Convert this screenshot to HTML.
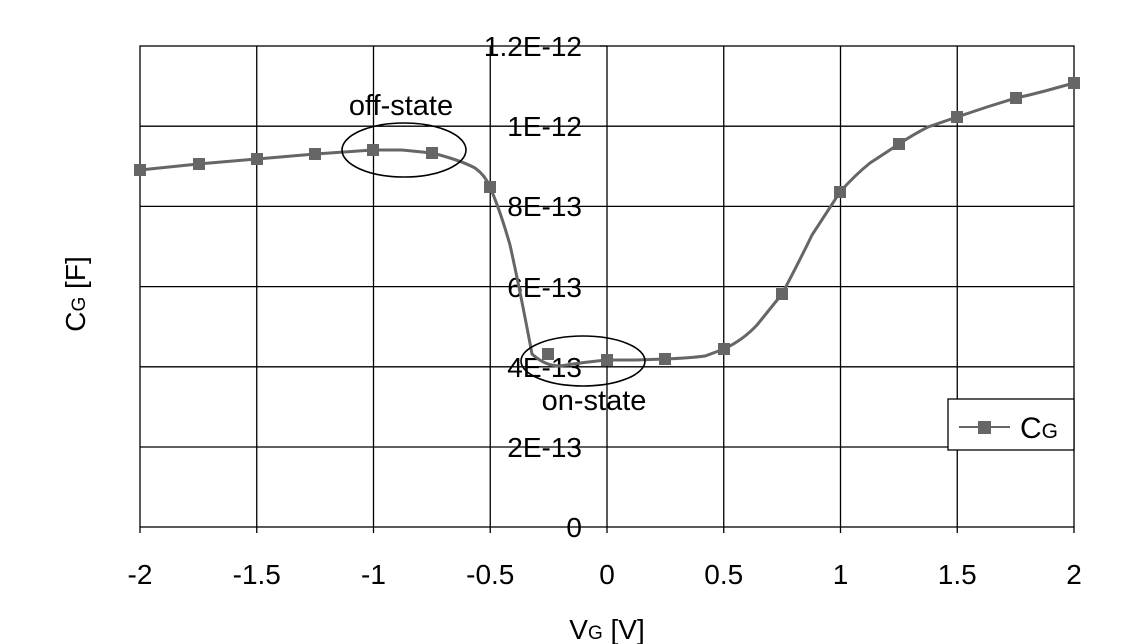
<!DOCTYPE html><html><head><style>body{margin:0;background:#fff}svg{display:block}text{font-family:"Liberation Sans",Arial,sans-serif;fill:#000}</style></head><body>
<svg width="1122" height="644" xmlns="http://www.w3.org/2000/svg">
<g stroke="#000" stroke-width="1.3" fill="none">
<rect x="140" y="46" width="934" height="481"/>
<path d="M256.75 46V533M373.5 46V533M490.25 46V533M607 46V533M723.75 46V533M840.5 46V533M957.25 46V533M140 527V533M1074 527V533"/>
<path d="M140 126.2H1074M140 206.4H1074M140 286.6H1074M140 366.8H1074M140 447H1074M600 46H607"/>
</g>
<g font-size="28" text-anchor="end">
<text x="582" y="56">1.2E-12</text><text x="582" y="136">1E-12</text><text x="582" y="216">8E-13</text><text x="582" y="297">6E-13</text><text x="582" y="377">4E-13</text><text x="582" y="457">2E-13</text><text x="582" y="537">0</text>
</g>
<g font-size="28" text-anchor="middle">
<text x="140" y="584">-2</text><text x="256.75" y="584">-1.5</text><text x="373.5" y="584">-1</text><text x="490.25" y="584">-0.5</text><text x="607" y="584">0</text><text x="723.75" y="584">0.5</text><text x="840.5" y="584">1</text><text x="957.25" y="584">1.5</text><text x="1074" y="584">2</text>
<text x="607" y="639">V<tspan font-size="19">G</tspan> [V]</text>
<text x="401" y="115" font-size="29">off-state</text>
<text x="594" y="410" font-size="29">on-state</text>
</g>
<text font-size="28" text-anchor="middle" transform="translate(85,294) rotate(-90)">C<tspan font-size="19">G</tspan> [F]</text>
<path d="M140 170 L198 164 L257 159 L315 154 L373 150 L402 150 L432 153 Q460 160 475 168 Q485 175 490 187 Q500 210 510 245 Q520 290 532 354 Q545 366 560 366 Q585 362 607 360 L636 360 L665 359 Q690 358 705 356 L724 349 Q743 340 757 325 L782 294 Q800 260 812 235 L840 192 Q855 175 870 163 L899 144 Q914 134 928 127 L957 117 Q972 112 987 107 L1016 98 Q1030 95 1045 91 L1074 83" fill="none" stroke="#666" stroke-width="3"/>
<g fill="#666">
<rect x="134" y="164" width="12" height="12"/><rect x="193" y="158" width="12" height="12"/><rect x="251" y="153" width="12" height="12"/><rect x="309" y="148" width="12" height="12"/><rect x="367" y="144" width="12" height="12"/><rect x="426" y="147" width="12" height="12"/><rect x="484" y="181" width="12" height="12"/><rect x="542" y="348" width="12" height="12"/><rect x="601" y="354" width="12" height="12"/><rect x="659" y="353" width="12" height="12"/><rect x="718" y="343" width="12" height="12"/><rect x="776" y="288" width="12" height="12"/><rect x="834" y="186" width="12" height="12"/><rect x="893" y="138" width="12" height="12"/><rect x="951" y="111" width="12" height="12"/><rect x="1010" y="92" width="12" height="12"/><rect x="1068" y="77" width="12" height="12"/>
</g>
<ellipse cx="404" cy="150" rx="62" ry="27" fill="none" stroke="#000" stroke-width="1.6"/>
<ellipse cx="583" cy="361" rx="62" ry="25" fill="none" stroke="#000" stroke-width="1.6"/>
<rect x="948" y="399" width="126" height="51" fill="#fff" stroke="#000" stroke-width="1.3"/>
<path d="M959 427H1010" stroke="#666" stroke-width="2"/>
<rect x="978" y="421" width="13" height="13" fill="#666"/>
<text x="1020" y="438" font-size="30">C<tspan font-size="21">G</tspan></text>
</svg></body></html>
